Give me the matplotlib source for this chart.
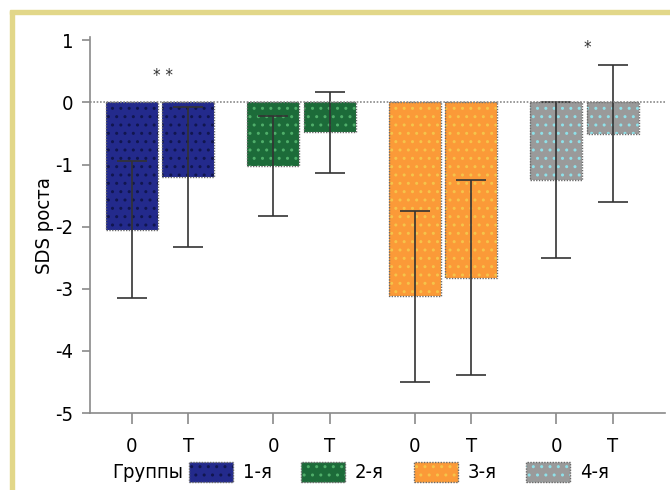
import numpy as np
import matplotlib.pyplot as plt
from matplotlib.patches import Rectangle

plt.rcParams['font.family'] = ['DejaVu Sans']
plt.rcParams['font.stretch'] = 'condensed'

groups = ['1-я', '2-я', '3-я', '4-я']
periods = ['0', 'T']
means = [[-2.05, -1.2], [-1.02, -0.48], [-3.12, -2.82], [-1.25, -0.5]]
errs = [[1.1, 1.13], [0.8, 0.65], [1.38, 1.57], [1.25, 1.1]]
colors = ['#232a8c', '#1c6b39', '#fb9a38', '#9a9a9a']
dot_colors = ['#11164f', '#4fae6a', '#f5c44a', '#8fe0e8']
stars = {0: '* *', 3: '*'}
star_y = {0: 0.42, 3: 0.88}

fs = 14.5
fig = plt.figure(figsize=(6.7, 4.9), dpi=100)
ax = fig.add_axes([0.134, 0.157, 0.859, 0.767])

# yellow frame on top and left
fig.patches.append(Rectangle((0.015, 0.0), 0.006, 0.978, transform=fig.transFigure,
                             color='#e2d789', zorder=0))
fig.patches.append(Rectangle((0.015, 0.971), 0.985, 0.008, transform=fig.transFigure,
                             color='#e2d789', zorder=0))

xpos = []
for g in range(4):
    for p in range(2):
        x = g * 2.5 + p
        xpos.append(x)
        m, e = means[g][p], errs[g][p]
        ax.bar(x, m, width=0.92, color=colors[g], lw=0, zorder=2)
        ax.bar(x, m, width=0.92, facecolor='none', edgecolor=dot_colors[g], lw=0,
               hatch='..', zorder=2)
        ax.bar(x, m, width=0.92, facecolor='none', edgecolor='#6a6a6a', lw=1.0,
               ls=(0, (1, 1)), zorder=3)
        ax.errorbar(x, m, yerr=e, fmt='none', ecolor='#333333', elinewidth=1.2,
                    capsize=11, capthick=1.2, zorder=4)
    if g in stars:
        ax.text(g * 2.5 + 0.55, star_y[g], stars[g],
                ha='center', va='center', fontsize=12, color='#333333')

ax.axhline(0, color='#8a8a8a', lw=1.2, ls=(0, (1, 1)), zorder=5)
ax.set_xlim(-0.74, 9.43)
ax.set_ylim(-5, 1.05)
ax.set_yticks(np.arange(-5, 2, 1))
ax.set_yticklabels([str(v) for v in range(-5, 2)], fontsize=fs)
ax.set_xticks(xpos)
ax.set_xticklabels(periods * 4, fontsize=fs)
ax.tick_params(axis='x', length=8, width=1.2, color='#8a8a8a', pad=9)
ax.tick_params(axis='y', length=6, width=1.2, color='#8a8a8a', pad=6)
for s in ['top', 'right']:
    ax.spines[s].set_visible(False)
for s in ['left', 'bottom']:
    ax.spines[s].set_color('#8a8a8a')
    ax.spines[s].set_linewidth(1.2)
ax.spines['bottom'].set_linestyle((0, (1, 1)))
ax.set_ylabel('SDS роста', fontsize=fs, labelpad=1)

# legend row drawn by hand
leg_y = 1 - 472 / 490
fig.text(112 / 670, leg_y, 'Группы', fontsize=fs, ha='left', va='center')
patch_x = [189, 301, 414, 526]
for i in range(4):
    x0 = patch_x[i] / 670
    fig.patches.append(Rectangle((x0, leg_y - 10 / 490), 44 / 670, 20 / 490,
                                 transform=fig.transFigure, facecolor=colors[i],
                                 edgecolor='#6a6a6a', lw=1, ls=(0, (1, 1))))
    fig.patches.append(Rectangle((x0, leg_y - 10 / 490), 44 / 670, 20 / 490,
                                 transform=fig.transFigure, facecolor='none',
                                 edgecolor=dot_colors[i], lw=0, hatch='..'))
    fig.text(x0 + 54 / 670, leg_y, groups[i], fontsize=fs, ha='left', va='center')

fig.savefig('out.png', dpi=100)
